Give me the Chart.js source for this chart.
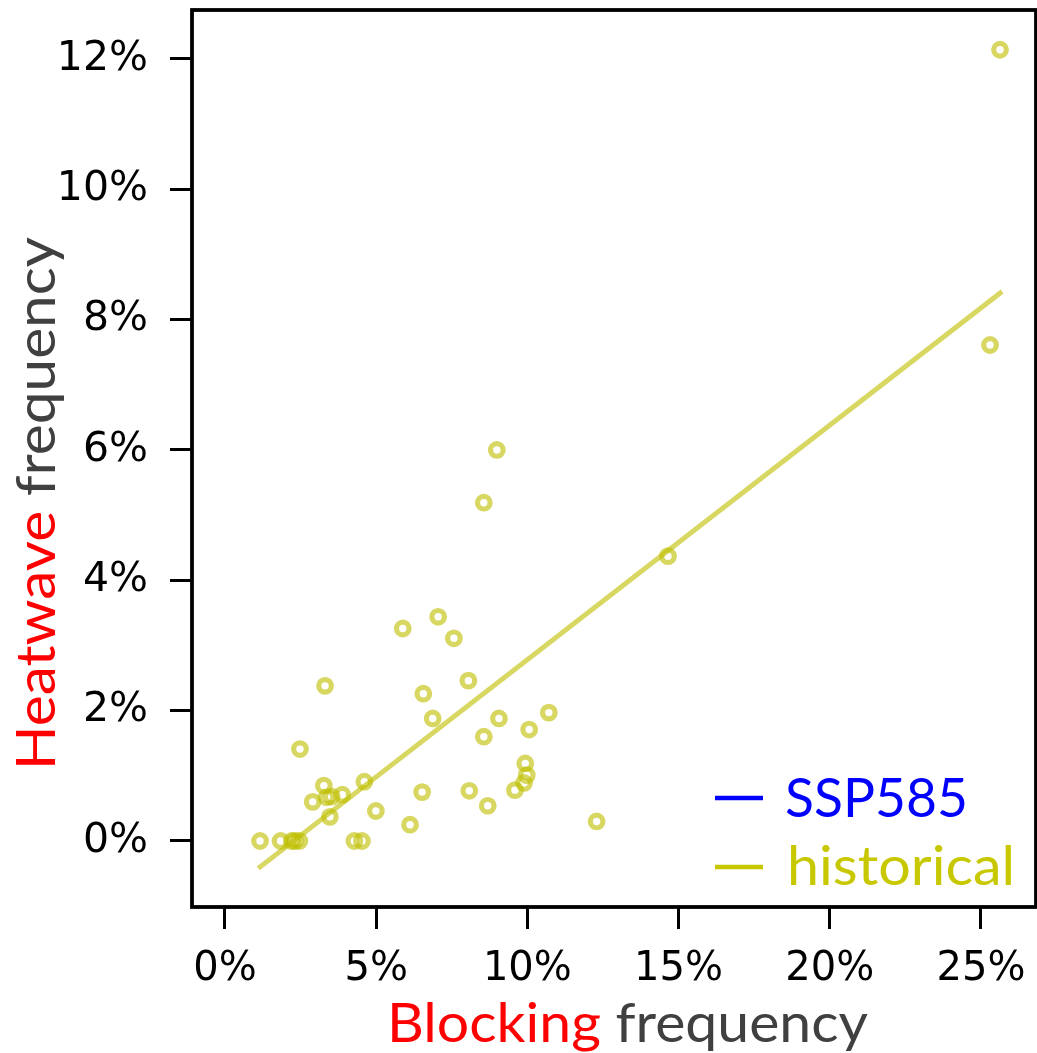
<!DOCTYPE html>
<html>
<head>
<meta charset="utf-8">
<script src="https://cdn.jsdelivr.net/npm/chart.js@4.4.0/dist/chart.umd.min.js"></script>
<style>
	html, body { margin: 0; padding: 0; background: #fff; }
	#grafica { display: block; }
</style>
</head>
<body>
<canvas id="grafica" width="1037" height="1053"></canvas>
<script>

// Frecuencia de bloqueo (%) por modelo
const blockingFreq = [
	25.63, 25.30, 14.65, 8.99, 8.56, 5.88, 7.05, 7.57, 3.31, 6.56,
	8.05, 6.87, 9.06, 10.71, 10.06, 8.56, 2.48, 9.93, 9.98, 9.89,
	9.59, 8.08, 6.52, 4.61, 3.27, 3.36, 3.53, 3.88, 2.90, 3.47,
	4.99, 8.69, 6.12, 12.29, 1.16, 1.84, 2.21, 2.31, 2.46, 4.28, 4.53
];

// Frecuencia de ola de calor (%) por modelo
const heatwaveFreq = [
	12.14, 7.61, 4.37, 6.00, 5.19, 3.26, 3.44, 3.11, 2.38, 2.26,
	2.46, 1.88, 1.88, 1.97, 1.71, 1.60, 1.41, 1.19, 1.01, 0.89,
	0.78, 0.77, 0.75, 0.91, 0.85, 0.67, 0.68, 0.71, 0.60, 0.37,
	0.46, 0.54, 0.25, 0.30, 0, 0, 0, 0, 0, 0, 0
];

// Recta de ajuste (extremos)
const fitX = [1.1, 25.7];
const fitY = [-0.42, 8.43];

// Leyenda
const legendLabels = ['SSP585', 'historical'];
const legendColors = ['#0000ff', '#c8c800'];

// Marcas de los ejes
const xTicks = [0, 5, 10, 15, 20, 25];
const yTicks = [0, 2, 4, 6, 8, 10, 12];

const colorHist = 'rgba(191, 191, 0, 0.62)';
const fuenteTitulo = 'Lato, "Open Sans", sans-serif';
const fuenteTicks = '"DejaVu Sans", sans-serif';

let puntos = blockingFreq.map(function(x, i){
	return {x: x, y: heatwaveFreq[i]};
});
let recta = fitX.map(function(x, i){
	return {x: x, y: fitY[i]};
});

// Texto de varios colores ajustado a un ancho dado
const textoAjustado = function(ctx, partes, ancho, size){
	ctx.font = size + 'px ' + fuenteTitulo;
	let total = 0;
	partes.forEach(function(p){ total += ctx.measureText(p[0]).width; });
	let s = ancho / total;
	ctx.save();
	ctx.scale(s, 1);
	ctx.textBaseline = 'alphabetic';
	ctx.textAlign = 'left';
	let x = 0;
	partes.forEach(function(p){
		ctx.fillStyle = p[1];
		ctx.fillText(p[0], x, 0);
		x += ctx.measureText(p[0]).width;
	});
	ctx.restore();
};

// Marco, titulos de ejes y leyenda
const extras = {
	id: 'extras',
	afterDraw: function(chart){
		let ctx = chart.ctx;
		let a = chart.chartArea;

		ctx.save();
		ctx.strokeStyle = '#000';
		ctx.lineWidth = 3.8;
		ctx.strokeRect(a.left, a.top, a.right - a.left, a.bottom - a.top);
		ctx.restore();

		// titulo eje x
		ctx.save();
		ctx.translate(387, 1042);
		textoAjustado(ctx, [['Blocking ', '#ff0000'], ['frequency', '#404040']], 481, 55);
		ctx.restore();

		// titulo eje y
		ctx.save();
		ctx.translate(55, 770);
		ctx.rotate(-Math.PI / 2);
		textoAjustado(ctx, [['Heatwave ', '#ff0000'], ['frequency', '#404040']], 533, 54);
		ctx.restore();

		// leyenda
		let filas = [
			{y: 798, base: 817, x: 785, ancho: 183},
			{y: 867, base: 885, x: 787, ancho: 228}
		];
		legendLabels.forEach(function(txt, i){
			let f = filas[i];
			ctx.save();
			ctx.strokeStyle = legendColors[i];
			ctx.lineWidth = 4.5;
			ctx.beginPath();
			ctx.moveTo(715, f.y);
			ctx.lineTo(763, f.y);
			ctx.stroke();
			ctx.translate(f.x, f.base);
			textoAjustado(ctx, [[txt, legendColors[i]]], f.ancho, 54);
			ctx.restore();
		});
	}
};

var grafica = new Chart(document.getElementById('grafica').getContext('2d'), {
	type: 'scatter',
	data: {
		datasets: [
			{
				label: 'historical',
				data: puntos,
				pointStyle: 'circle',
				pointRadius: 6.3,
				pointHoverRadius: 6.3,
				pointBorderWidth: 5.2,
				pointHoverBorderWidth: 5.2,
				pointBorderColor: colorHist,
				pointBackgroundColor: 'rgba(0,0,0,0)',
				borderColor: colorHist,
				backgroundColor: 'rgba(0,0,0,0)'
			},
			{
				label: 'historical fit',
				data: recta,
				showLine: true,
				pointRadius: 0,
				borderWidth: 5,
				borderColor: colorHist
			},
			{
				label: 'SSP585',
				data: [],
				showLine: true,
				pointRadius: 0,
				borderColor: '#0000ff'
			}
		]
	},
	options: {
		responsive: false,
		animation: false,
		devicePixelRatio: 1,
		layout: { autoPadding: false, padding: { top: 10, right: 1, left: 0, bottom: 0 } },
		plugins: {
			legend: { display: false },
			tooltip: { enabled: false }
		},
		scales: {
			x: {
				type: 'linear',
				min: -1.09,
				max: 26.82,
				border: { display: false },
				grid: {
					drawOnChartArea: false,
					drawTicks: true,
					tickLength: 22,
					tickWidth: 3,
					tickColor: '#000'
				},
				afterBuildTicks: function(scale){
					scale.ticks = xTicks.map(function(v){ return {value: v}; });
				},
				ticks: {
					color: '#000',
					font: { family: fuenteTicks, size: 40 },
					padding: 17,
					maxRotation: 0,
					callback: function(v){ return v + '%'; }
				},
				afterFit: function(scale){
					scale.height = 146;
					scale.paddingLeft = 0;
					scale.paddingRight = 0;
				}
			},
			y: {
				type: 'linear',
				min: -1.013,
				max: 12.75,
				border: { display: false },
				grid: {
					drawOnChartArea: false,
					drawTicks: true,
					tickLength: 22,
					tickWidth: 3,
					tickColor: '#000'
				},
				afterBuildTicks: function(scale){
					scale.ticks = yTicks.map(function(v){ return {value: v}; });
				},
				ticks: {
					color: '#000',
					font: { family: fuenteTicks, size: 41 },
					padding: 22,
					callback: function(v){ return v + '%'; }
				},
				afterFit: function(scale){
					scale.width = 192;
					scale.paddingTop = 0;
					scale.paddingBottom = 0;
				}
			}
		}
	},
	plugins: [extras]
});

</script>
</body>
</html>
